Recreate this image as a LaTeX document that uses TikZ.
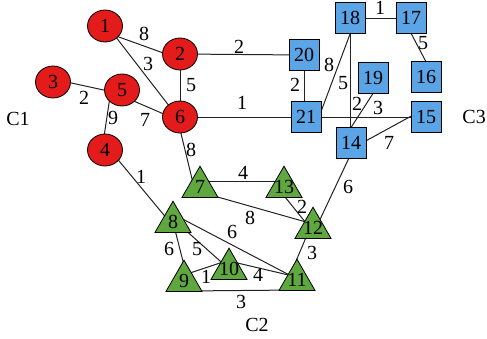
\documentclass[tikz,border=0pt]{standalone}
\usepackage{fontspec}
\setmainfont{Liberation Serif}
\newfontfamily\tnrfont{Liberation Serif}
\usetikzlibrary{shapes.geometric,calc}
\pgfdeclarelayer{bg}
\pgfsetlayers{bg,main}
\definecolor{cred}{HTML}{E31B1B}
\definecolor{cblue}{HTML}{5BA4E6}
\definecolor{cgreen}{HTML}{5FA83F}
\definecolor{cedge}{HTML}{222222}
\begin{document}
\begin{tikzpicture}[x=1pt,y=-1pt,
  every node/.style={font=\tnrfont\fontsize{20}{21}\selectfont},
  circ/.style={ellipse,draw=black,line width=0.8pt,fill=cred,minimum width=35pt,minimum height=32pt,inner sep=0pt},
  sq/.style={rectangle,draw=black,line width=0.8pt,fill=cblue,minimum width=30pt,minimum height=31pt,inner sep=0pt},
  tri/.style={regular polygon,regular polygon sides=3,draw=black,line width=0.8pt,fill=cgreen,minimum size=41.6pt,inner sep=0pt},
  edge/.style={draw=cedge,line width=1pt},
  wt/.style={inner sep=0pt}]
\useasboundingbox (0,0) rectangle (487,338);
% circles
\node[circ] (n1) at (105,26) {1};
\node[circ] (n2) at (180,54) {2};
\node[circ] (n3) at (53,82) {3};
\node[circ] (n5) at (122,90) {5};
\node[circ] (n6) at (180,117) {6};
\node[circ] (n4) at (105,150) {4};
% squares
\node[sq] (n18) at (350,18) {18};
\node[sq] (n17) at (411,18) {17};
\node[sq] (n20) at (304,55) {20};
\node[sq] (n19) at (373,78) {19};
\node[sq] (n16) at (426,77) {16};
\node[sq] (n21) at (306,117) {21};
\node[sq] (n15) at (426,117) {15};
\node[sq] (n14) at (351,143) {14};
% triangles
\node[tri,label=center:7] (n7) at (200,187) {};
\node[tri,label=center:13] (n13) at (284,187) {};
\node[tri,label=center:8] (n8) at (173,222) {};
\node[tri,label=center:12] (n12) at (313,228) {};
\node[tri,label=center:10] (n10) at (229,269) {};
\node[tri,label=center:9] (n9) at (184,281) {};
\node[tri,label=center:11] (n11) at (297,280) {};
% edges
\begin{pgfonlayer}{bg}
\draw[edge] ($(n1)+(0,6)$) -- ($(n2)+(0,5)$);
\draw[edge] ($(n1)+(0,-3)$) -- ($(n6)+(0,3)$);
\draw[edge] (n2.center) -- (n6.center);
\draw[edge] ($(n3)+(0,-3)$) -- ($(n5)+(0,4)$);
\draw[edge] ($(n5)+(0,6)$) -- ($(n6)+(0,4)$);
\draw[edge] ($(n5)+(-11,0)$) -- ($(n4)+(-3,0)$);
\draw[edge] ($(n4)+(0,-6)$) -- ($(n8)+(0,4)$);
\draw[edge] ($(n6)+(-3,0)$) -- ($(n7)+(-6,0)$);
\draw[edge] (n2.center) -- (n20.center);
\draw[edge] (n6.center) -- (n21.center);
\draw[edge] (n20.center) -- ($(n21)+(-2,0)$);
\draw[edge] ($(n21)+(13,0)$) -- ($(n18)+(6,0)$);
\draw[edge] (n18.center) -- ($(n14)+(-1,0)$);
\draw[edge] (n18.center) -- (n17.center);
\draw[edge] ($(n17)+(-8,0)$) -- ($(n16)+(8,0)$);
\draw[edge] ($(n19)+(10,0)$) -- ($(n14)+(-10,0)$);
\draw[edge] (n21.center) -- (n15.center);
\draw[edge] ($(n14)+(0,6)$) -- ($(n15)+(0,-9)$);
\draw[edge] ($(n14)+(5,0)$) -- ($(n12)+(3,0)$);
\draw[edge] ($(n7)+(0,-6)$) -- ($(n13)+(0,-6)$);
\draw[edge] ($(n7)+(0,5)$) -- ($(n12)+(0,-4)$);
\draw[edge] ($(n13)+(-7,0)$) -- ($(n12)+(-3,0)$);
\draw[edge] ($(n8)+(0,-8)$) -- ($(n11)+(0,-1)$);
\draw[edge] (n8.center) -- ($(n9)+(4,0)$);
\draw[edge] ($(n8)+(0,-3)$) -- (n10.center);
\draw[edge] ($(n9)+(0,-6)$) -- ($(n10)+(0,-9)$);
\draw[edge] ($(n10)+(0,-8)$) -- ($(n11)+(0,-3)$);
\draw[edge] ($(n9)+(0,10)$) -- ($(n11)+(0,10)$);
\draw[edge] ($(n12)+(-3,0)$) -- ($(n11)+(-9,0)$);
\end{pgfonlayer}
% weights
\node[wt] (w12) at (144,34) {8};
\node[wt] (w16) at (148,64) {3};
\node[wt] (w26) at (191,85) {5};
\node[wt] (w35) at (84,98) {2};
\node[wt] (w54) at (113,118) {9};
\node[wt] (w56) at (145,120) {7};
\node[wt] (w67) at (191,150) {8};
\node[wt] (w220) at (239,47) {2};
\node[wt] (w621) at (242,103) {1};
\node[wt] (w2021) at (295,85) {2};
\node[wt] (w2118) at (329,65) {8};
\node[wt] (w1814) at (343,83) {5};
\node[wt] (w1914) at (357,104) {2};
\node[wt] (w2115) at (378,108) {3};
\node[wt] (w1415) at (389,143) {7};
\node[wt] (w1817) at (380,8) {1};
\node[wt] (w1716) at (423,43) {5};
\node[wt] (w1412) at (348,187) {6};
\node[wt] (w48) at (141,177) {1};
\node[wt] (w713) at (243,173) {4};
\node[wt] (w712) at (250,218) {8};
\node[wt] (w1312) at (302,207) {2};
\node[wt] (w811) at (232,232) {6};
\node[wt] (w89) at (169,249) {6};
\node[wt] (w810) at (197,249) {5};
\node[wt] (w1211) at (312,253) {3};
\node[wt] (w910) at (206,277) {1};
\node[wt] (w1011) at (258,275) {4};
\node[wt] (w911) at (241,302) {3};
% cluster labels
\node[wt] (c1) at (18,119) {C1};
\node[wt,anchor=east] (c3) at (486,117) {C3};
\node[wt] (c2) at (257,325) {C2};
\end{tikzpicture}
\end{document}
